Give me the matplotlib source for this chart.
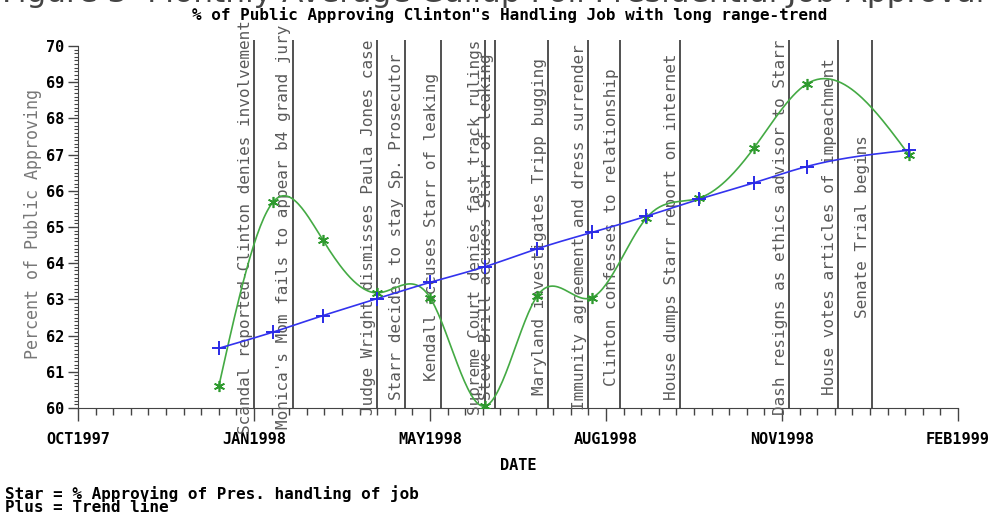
import numpy as np
import matplotlib
matplotlib.use("Agg")
import matplotlib.pyplot as plt
import matplotlib.dates as mdates
from matplotlib.transforms import Bbox, TransformedBbox
from datetime import datetime

# monthly average approval (star) and long range trend (plus)
point_dates = ["1998-01-01", "1998-02-01", "1998-03-01", "1998-04-01", "1998-05-01",
               "1998-06-01", "1998-07-01", "1998-08-01", "1998-09-01", "1998-10-01",
               "1998-11-01", "1998-12-01", "1999-01-28"]
approval = [60.6, 65.7, 64.65, 63.18, 63.05, 60.05, 63.1, 63.05, 65.25, 65.8, 67.18, 68.95, 67.0]
trend = [61.65, 62.1, 62.55, 63.02, 63.47, 63.9, 64.4, 64.85, 65.3, 65.77, 66.22, 66.67, 67.12]

event_dates = ["1998-01-21", "1998-02-12", "1998-04-01", "1998-04-17", "1998-05-07",
               "1998-06-01", "1998-06-07", "1998-07-07", "1998-07-30", "1998-08-17",
               "1998-09-20", "1998-11-21", "1998-12-19", "1999-01-07"]
event_labels = ["Scandal reported-Clinton denies involvement",
                "Monica's Mom fails to appear b4 grand jury",
                "Judge Wright dismisses Paula Jones case",
                "Starr decides to stay Sp. Prosecutor",
                "Kendall accuses Starr of leaking",
                "Supreme Court denies fast track rulings",
                "Steve Brill accuses Starr of leaking",
                "Maryland investigates Tripp bugging",
                "Immunity agreement and dress surrender",
                "Clinton confesses to relationship",
                "House dumps Starr report on internet",
                "Dash resigns as ethics advisor to Starr",
                "House votes articles of impeachment",
                "Senate Trial begins"]

tick_start = "1997-10-13"
tick_labels = ["OCT1997", "JAN1998", "MAY1998", "AUG1998", "NOV1998", "FEB1999"]

MONO = "DejaVu Sans Mono"


def spline(x, y, n=400):
    # natural cubic spline, like SAS interpol=spline
    x = np.asarray(x, float)
    y = np.asarray(y, float)
    k = len(x)
    h = np.diff(x)
    A = np.zeros((k, k))
    b = np.zeros(k)
    A[0, 0] = A[-1, -1] = 1
    for i in range(1, k - 1):
        A[i, i - 1] = h[i - 1]
        A[i, i] = 2 * (h[i - 1] + h[i])
        A[i, i + 1] = h[i]
        b[i] = 6 * ((y[i + 1] - y[i]) / h[i] - (y[i] - y[i - 1]) / h[i - 1])
    m = np.linalg.solve(A, b)
    xs = np.linspace(x[0], x[-1], n)
    j = np.clip(np.searchsorted(x, xs) - 1, 0, k - 2)
    t = xs - x[j]
    hj = h[j]
    a = (y[j + 1] - y[j]) / hj - hj * (2 * m[j] + m[j + 1]) / 6
    ys = y[j] + a * t + m[j] / 2 * t ** 2 + (m[j + 1] - m[j]) / (6 * hj) * t ** 3
    return xs, ys


def to_num(s):
    return mdates.date2num(datetime.strptime(s, "%Y-%m-%d"))


xp = [to_num(d) for d in point_dates]
xe = [to_num(d) for d in event_dates]
x0 = to_num(tick_start)
major = [x0 + 100 * i for i in range(len(tick_labels))]
minor = [x0 + 10 * i for i in range(1, 10 * (len(tick_labels) - 1)) if i % 10]

fig = plt.figure(figsize=(9.95, 5.21), dpi=100)
ax = fig.add_axes([78 / 995, 1 - 408 / 521, 880 / 995, 368 / 521])
ytop = 70 + 6 / 36.2

# event lines and labels
clip = TransformedBbox(Bbox.from_extents(0, 0, 1, 1 - 21 / 521), fig.transFigure)
for d, lab in zip(xe, event_labels):
    ax.plot([d, d], [60, ytop], color="#333333", lw=1.2, zorder=1)
    t = ax.text(d - 0.8, 65, lab, rotation=90, ha="right", va="center",
                fontsize=11.5, family=MONO, color="#5a5a5a")
    t.set_clip_path(None)
    t.set_clip_box(clip)
    t.set_clip_on(True)

xs, ys = spline(xp, approval)
ax.plot(xs, ys, color="#44aa44", lw=1.2, zorder=3)
ax.plot(xp, approval, ls="none", marker=(6, 2, 0), ms=8, mew=1.2, color="#2e9a2e", zorder=4)
xs, ys = spline(xp, trend)
ax.plot(xs, ys, color="#3333ee", lw=1.2, zorder=3)
ax.plot(xp, trend, ls="none", marker="+", ms=10, mew=1.4, color="#2a2ae6", zorder=4)

ax.set_xticks(major)
ax.set_xticklabels(tick_labels, family=MONO, fontweight="bold", fontsize=11)
ax.set_xticks(minor, minor=True)
ax.set_yticks(range(60, 71))
ax.set_yticklabels([str(v) for v in range(60, 71)], family=MONO, fontweight="bold", fontsize=11)
ax.set_yticks(np.arange(600, 701) / 10, minor=True)
ax.set_xlim(major[0], major[-1])
ax.set_ylim(60, ytop)
for s in ["top", "right"]:
    ax.spines[s].set_visible(False)
ax.spines["left"].set_bounds(60, 70)
ax.spines["left"].set_color("#444444")
ax.spines["bottom"].set_color("#444444")

ax.tick_params(axis="x", which="major", length=9, width=1, pad=8, color="#444444")
ax.tick_params(axis="x", which="minor", length=5, width=1, color="#444444")
ax.tick_params(axis="y", which="major", length=7, width=1, pad=3, color="#444444")
ax.tick_params(axis="y", which="minor", length=3, width=0.8, color="#444444")

ax.set_xlabel("DATE", family=MONO, fontweight="bold", fontsize=11, labelpad=8)
ax.set_ylabel("Percent of Public Approving", family=MONO, fontsize=12, color="#777777", labelpad=3)

fig.text(493 / 995, 1 - 2 / 521, "Figure 3  Monthly Average Gallup Poll Presidential Job Approval",
         ha="center", va="baseline", fontsize=22.5, color="#444444")
fig.text(510 / 995, 1 - 15 / 521, "% of Public Approving Clinton\"s Handling Job with long range-trend",
         ha="center", va="center", family=MONO, fontweight="bold", fontsize=11.5)
fig.text(5 / 995, 1 - 494 / 521, "Star = % Approving of Pres. handling of job",
         ha="left", va="center", family=MONO, fontweight="bold", fontsize=11.5)
fig.text(5 / 995, 1 - 508 / 521, "Plus = Trend line",
         ha="left", va="center", family=MONO, fontweight="bold", fontsize=11.5)

fig.savefig("out.png", dpi=100)
